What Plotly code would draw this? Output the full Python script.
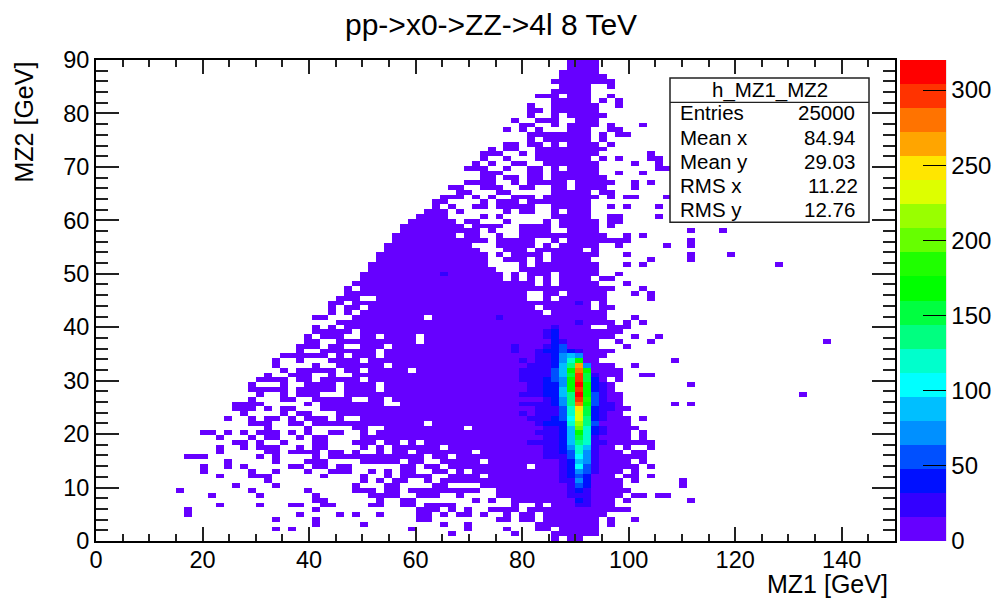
import plotly.graph_objects as go

title_text = "pp->x0->ZZ->4l 8 TeV"
x_title = "MZ1 [GeV]"
y_title = "MZ2 [GeV]"
n_bins = 100
x_max = 150
y_max = 90
z_max = 320
band_colors = ["#6600ff", "#3300ff", "#0010ff", "#0050ff", "#0090ff", "#00bfff", "#00ffff",
               "#00ffcc", "#00ff80", "#00ff40", "#00ff00", "#1fff00", "#66ff00", "#99ff00",
               "#ddff00", "#ffe600", "#ffa500", "#ff7300", "#ff3300", "#ff0000"]
colorbar_ticks = [0, 50, 100, 150, 200, 250, 300]
stat_name = "h_MZ1_MZ2"
stat_labels = ["Entries", "Mean x", "Mean y", "RMS x", "RMS y"]
stat_values = ["25000", "84.94", "29.03", "11.22", "12.76"]

# occupied columns for each row of the histogram, bottom row first
row_cols = [
    "57,59-60",
    "44,52,57-62",
    "22,24,39,46,51,55-56,58-62",
    "27,33,43,46,55-62,64",
    "22,27,40-41,50-51,53-54,56-62,64,67",
    "11,25,30,32,35,40-41,43,45-46,48,51,53-54,56-63",
    "11,27,40-42,44,46,49-52,54-66",
    "15,20,24-25,28-29,34-35,38-39,41-44,52,55,57-64",
    "27-28,35,38-39,47,49,52-64,66,74",
    "14,20,27,34-37,40-42,45,50-65,67-68,70-71",
    "10,19,26,32-34,36-37,39-47,50-66",
    "17,22,32,36-37,42-43,48-65,73",
    "21,33,35,37-38,41,43-65,67,73",
    "15,19-21,28,33,36,38-41,44-47,49-64,66-67,69",
    "13,19,22,26,29-31,34,36,38-39,42-43,45,47-65,67",
    "13,16,18,24-25,27-28,30-31,38-39,41-42,44-53,55-67,69",
    "16,22,26-28,33-37,39-40,43-47,49-66,68",
    "11-13,20,22,27,29-40,42-43,45-68",
    "15,21-22,24-27,29-30,32,35,37-38,40-46,48-65,67-68",
    "15,18,20-22,25,27-28,33,35,37-42,44-64,66,69",
    "17-18,20,23,27-28,32-34,36-37,39,41-69",
    "15,19,21-22,25,27-28,33-66,68",
    "13-14,16,18,20-22,24,26,29-30,33,35-66,68",
    "21,26,32-33,36-45,47-67",
    "19-21,24-25,27-40,42-66",
    "16,19,21-22,24,26-28,30,33-66,68",
    "18,23,25-26,30-65",
    "17-19,21,23-24,28-66",
    "17-20,26,28-35,38-65,72,74",
    "19,23-24,27-31,34-35,37-65",
    "20,23,25-27,31-65,88",
    "19-23,25-29,31-34,36-64",
    "19,23,26-29,31-34,36-64,74",
    "20-23,25-26,28-32,34-63,65",
    "21,24-26,29,32-65,68-69",
    "23,25-29,31-32,34-38,40-65",
    "22,27,30-35,37-64,67",
    "22,25,29-32,34-62,72",
    "23-28,30,32-34,36-63",
    "25,28-34,36-64",
    "25-27,29-30,33-35,37-62,66",
    "26-27,30-39,41-62,65,69,91",
    "26,28-30,33-34,36-39,41-64,67,70",
    "27-31,33-65",
    "27,29,31-61,64-66",
    "30-64,66,68",
    "27-28,32-40,42-63,67",
    "29,31,33-55,57-63",
    "29,31-32,34-54,56-61,63-64",
    "29-30,32-61,63",
    "30-32,35-53,56,58-63,69",
    "31-53,56-57,59-63,67,69",
    "31,33-64,68",
    "32-54,56,58-62,66",
    "33-50,52,54,56,58-61,63-64",
    "33-50,52,54-56,58-62,65",
    "34-49,53-62",
    "34-48,53,55-62,66,68,85",
    "35-48,51-53,55,57-61,69,74",
    "35-48,50,52-55,57-62,66,74,79",
    "36-47,51-53,55-60,62",
    "36-46,50-54,56,58-62,65,71,74",
    "37-48,50-54,57,59-66,74",
    "37-44,46-47,50,53-63,66,68",
    "38-47,49,53-56,59-62,74,78",
    "38-45,47-50,53-56,58-62,64",
    "39-44,46-47,51,56,58-62,64-65",
    "40-43,48,50,57-61,64-65,70",
    "41-43,45,51,53-54,57,59-61",
    "42,44,47-48,50-54,57-61,64,66,70",
    "42-43,48,50-52,54-61",
    "43-45,47,49,52-54,56-62,64,66-67,71",
    "45-46,50-51,57-61,63-64",
    "44-45,48-50,53-54,57-58,60-63,67",
    "46-49,52,54-58,60-64,67,69",
    "48-49,51-52,54-55,57-63",
    "48-50,54-55,57-62,65,68",
    "46-48,51,54-55,57,59-62,70-71",
    "47,49,52-53,56-62,67,70",
    "48,51,55-61,63,65,69-70",
    "48-50,53,55-62,69",
    "49,51-52,55-63",
    "51-52,54-55,57,59-62,64",
    "54,56-61,63",
    "54-61,63,65-66",
    "51,53,55,59-61,64-65",
    "53-54,57,59-62,64,68",
    "52,55-57,60-62",
    "54,57,59-63",
    "54-55,57-62",
    "54,57-62,65",
    "57-61,63,65",
    "55-57,59-61,64",
    "57-61",
    "58-61,64",
    "57-64",
    "58-63",
    "58-62",
    "59-62",
    "59-62",
]

# colour band (1-20) of the busy columns near the Z peak: first row, then values upward
col_52 = (39, [2, 2])
col_53 = (26, [2, 1, 2, 1, 2, 1, 1, 2, 2, 2, 1, 2])
col_54 = (20, [2, 1, 1, 1, 1, 2, 1, 1, 2, 1, 2, 2, 2, 2, 2, 2, 2])
col_55 = (20, [2, 1, 2, 1, 2, 2, 2, 2, 2, 1, 2, 2, 2, 2, 2, 2, 2, 2, 2, 2])
col_56 = (17, [2, 2, 2, 2, 2, 2, 2, 3, 2, 2, 2, 2, 2, 3, 3, 3, 3, 2, 2, 2, 2, 2, 3, 2, 1, 2, 2])
col_57 = (17, [2, 2, 2, 2, 2, 2, 2, 3, 3, 2, 2, 3, 3, 3, 3, 3, 4, 4, 4, 3, 3, 3, 3, 3, 3, 3, 3, 2])
col_58 = (12, [2, 2, 2, 2, 2, 2, 3, 3, 3, 3, 3, 3, 3, 4, 4, 4, 5, 5, 6, 6, 5, 5, 6, 6, 6, 5, 5, 4, 4, 2])
col_59 = (9, [2, 2, 2, 2, 3, 3, 3, 3, 4, 4, 5, 6, 6, 6, 6, 8, 7, 8, 8, 9, 9, 9, 11, 11, 11, 10, 11, 9, 8, 6, 3])
col_60 = (7, [2, 3, 2, 3, 4, 5, 4, 5, 7, 6, 7, 8, 8, 9, 10, 11, 13, 14, 15, 15, 16, 18, 19, 20, 19, 20, 19, 19, 18, 17, 11, 5, 2])
col_61 = (7, [2, 2, 2, 2, 3, 3, 3, 4, 4, 5, 5, 5, 6, 8, 8, 8, 8, 9, 9, 10, 10, 11, 12, 11, 11, 11, 10, 10, 11, 5])
col_62 = (14, [2, 2, 2, 2, 2, 2, 2, 2, 3, 3, 4, 3, 3, 3, 4, 4, 4, 3, 3, 3, 2])
col_63 = (20, [2, 1, 2, 2, 1, 2, 2, 2, 2, 2, 2, 2, 2])
col_64 = (27, [2, 2])
busy_columns = {52: col_52, 53: col_53, 54: col_54, 55: col_55, 56: col_56, 57: col_57, 58: col_58,
                59: col_59, 60: col_60, 61: col_61, 62: col_62, 63: col_63, 64: col_64}
# isolated darker cells away from the peak: (column, row)
stray_cells = [(43, 55), (60, 49), (50, 46), (60, 45)]


def parse(spec):
    out = []
    for part in spec.split(","):
        if "-" in part:
            a, b = part.split("-")
            out.extend(range(int(a), int(b) + 1))
        else:
            out.append(int(part))
    return out


band_width = z_max / len(band_colors)
z = [[None] * n_bins for _ in range(n_bins)]
for row, spec in enumerate(row_cols):
    for col in parse(spec):
        z[row][col] = 0.5 * band_width
for col, (first, bands) in busy_columns.items():
    for k, b in enumerate(bands):
        if z[first + k][col] is not None:
            z[first + k][col] = (b - 0.5) * band_width
for col, row in stray_cells:
    z[row][col] = 1.5 * band_width

scale = []
for i, c in enumerate(band_colors):
    scale.append([i / len(band_colors), c])
    scale.append([(i + 1) / len(band_colors), c])

W, H = 993, 598
L, R, T, B = 96, 895, 60, 541.5
FONT = "Liberation Sans"


def px(x):
    return (x - L) / (R - L)


def py(y):
    return (B - y) / (B - T)


fig = go.Figure(go.Heatmap(
    z=z,
    x0=x_max / n_bins / 2, dx=x_max / n_bins,
    y0=y_max / n_bins / 2, dy=y_max / n_bins,
    zmin=0, zmax=z_max, colorscale=scale, hoverongaps=False,
    colorbar=dict(
        x=px(900), xanchor="left", xpad=0,
        y=0, yanchor="bottom", ypad=0,
        thickness=46, thicknessmode="pixels",
        len=1, lenmode="fraction",
        outlinewidth=0,
        tickvals=colorbar_ticks, ticks="inside", ticklen=23, tickwidth=1.2, tickcolor="black",
        tickfont=dict(family=FONT, size=24, color="black"),
    ),
))

axis_common = dict(
    showgrid=False, zeroline=False, showline=True, linecolor="black", linewidth=2,
    mirror="ticks", ticks="inside", tickcolor="#222222", tickwidth=1.5,
    tickfont=dict(family=FONT, size=23.5, color="black"),
)
fig.update_xaxes(range=[0, x_max], dtick=20, tick0=0, ticklen=14, ticklabelstandoff=-3, **axis_common,
                 minor=dict(dtick=5, ticks="inside", ticklen=7, tickcolor="#222222", tickwidth=1.5))
fig.update_yaxes(range=[0, y_max], dtick=10, tick0=0, ticklen=23, **axis_common,
                 minor=dict(dtick=2, ticks="inside", ticklen=12, tickcolor="#222222", tickwidth=1.5))

shapes = [
    dict(type="line", xref="paper", yref="paper", x0=px(945.5), x1=px(945.5), y0=0, y1=1,
         line=dict(color="black", width=1.2)),
    dict(type="rect", xref="paper", yref="paper", x0=px(670), x1=px(869), y0=py(222.5), y1=py(78),
         fillcolor="white", line=dict(color="#222222", width=1.5), layer="above"),
    dict(type="line", xref="paper", yref="paper", x0=px(670), x1=px(869), y0=py(102.5), y1=py(102.5),
         line=dict(color="#222222", width=1.2), layer="above"),
]
fig.update_layout(shapes=shapes)


def label(text, x, y, size, anchor="left", angle=0, vanchor="middle"):
    fig.add_annotation(text=text, xref="paper", yref="paper", x=px(x), y=py(y), showarrow=False,
                       xanchor=anchor, yanchor=vanchor, textangle=angle, borderpad=0, borderwidth=0,
                       font=dict(family=FONT, size=size, color="black"))


label(title_text, 491, 24, 30, "center")
label(x_title, 888, 585, 25, "right")
label(y_title, 24, 62, 25, "center", -90, "top")
label(stat_name, 770, 90, 20.5, "center")
stat_rows = [113, 138, 162, 186, 210]
stat_right = [855, 855, 855, 858, 855]
for name, value, y, right in zip(stat_labels, stat_values, stat_rows, stat_right):
    label(name, 680, y, 20.5, "left")
    label(value, right, y, 20.5, "right")

fig.update_layout(
    width=W, height=H, autosize=False,
    margin=dict(l=L, r=W - R, t=T, b=H - B, pad=0, autoexpand=False),
    paper_bgcolor="white", plot_bgcolor="white",
    showlegend=False,
)
fig.write_html("out.html", config={"displayModeBar": False},
               post_script="document.body.style.margin='0';document.body.style.overflow='hidden';")
